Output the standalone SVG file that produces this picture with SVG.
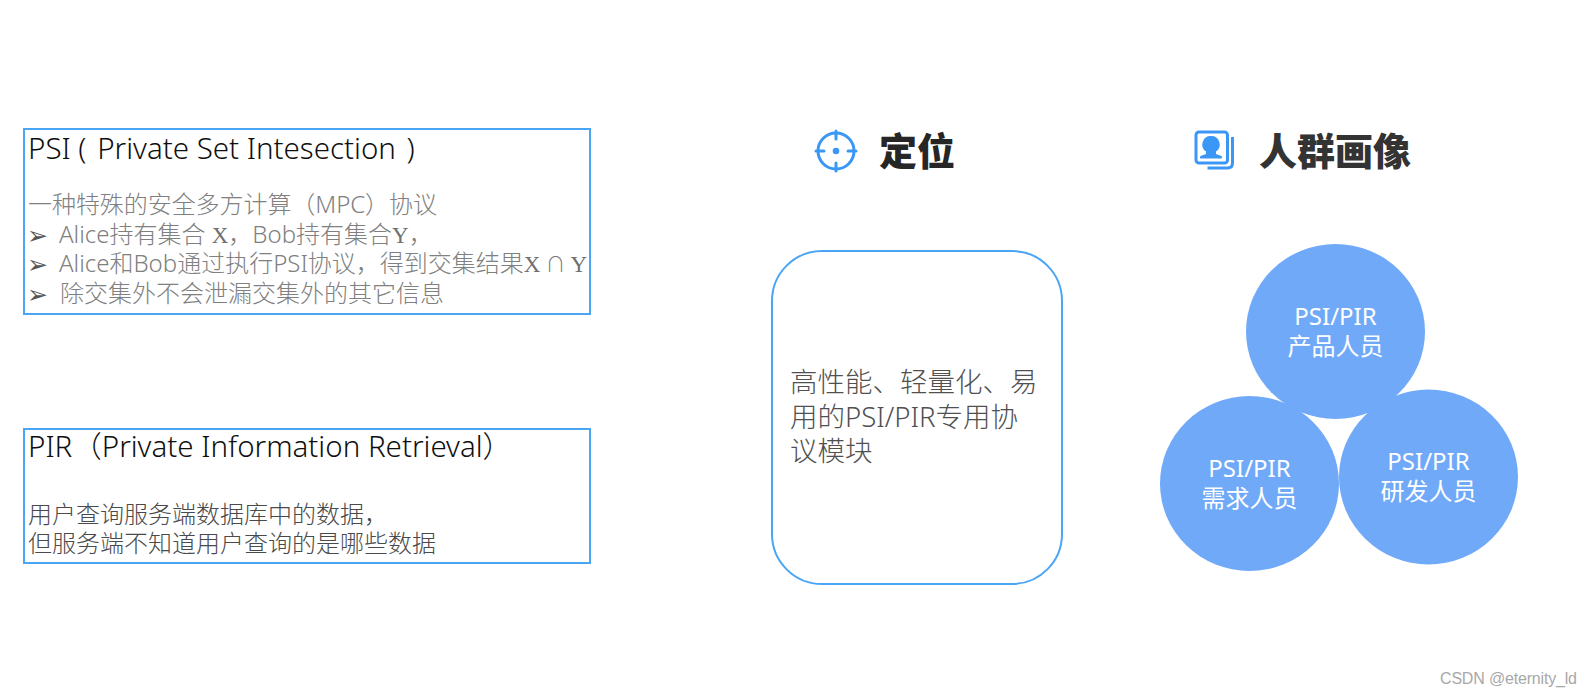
<svg xmlns="http://www.w3.org/2000/svg" width="1592" height="698" viewBox="0 0 1592 698">
<style>
text{font-family:"Noto Sans","Noto Sans CJK SC",sans-serif;font-weight:300}
.box{fill:#fff;stroke:#4aa5f5;stroke-width:2}
.h{font-size:29.500px;fill:#0f0f0f}
.g{font-size:24px;fill:#808080}
.d{font-size:24px;fill:#4a4a4a}
.t{font-size:38px;font-weight:900;font-family:"Noto Sans CJK SC",sans-serif;fill:#262626}
.c{fill:#70a9f8}
.w{font-size:24px;fill:#fff;text-anchor:middle;font-weight:400}
.m{font-size:27.500px;fill:#505050}
.b{font-family:"DejaVu Sans",sans-serif;font-size:25px;fill:#555}
.s{font-family:"Liberation Serif",serif;fill:#707070;font-size:23px}
.ic{fill:none;stroke:#3a97f5;stroke-width:3}
.f{fill:#3a97f5}
</style>
<rect width="1592" height="698" fill="#fff"/>
<g id="psi">
<rect class="box" x="24" y="129" width="566" height="185"/>
<text class="h" x="28" y="159">PSI ( <tspan dx="3">Private Set Intesection</tspan><tspan dx="3"> )</tspan></text>
<text class="g" x="28" y="213" textLength="409">一种特殊的安全多方计算（MPC）协议</text>
<text class="b" x="27" y="244">➢</text>
<text class="g" x="59" y="243">Alice持有集合 <tspan class="s">X</tspan>，Bob持有集合<tspan class="s">Y</tspan>，</text>
<text class="b" x="27" y="273">➢</text>
<text class="g" x="59" y="272">Alice和Bob通过执行PSI协议，得到交集结果<tspan class="s">X</tspan><tspan dx="5" font-size="20" fill="#707070">∩</tspan><tspan class="s" dx="5">Y</tspan></text>
<text class="b" x="27" y="303">➢</text>
<text class="g" x="60" y="302">除交集外不会泄漏交集外的其它信息</text>
</g>
<g id="pir">
<rect class="box" x="24" y="429" width="566" height="134"/>
<text class="h" x="28" y="457">PIR（Private Information Retrieval）</text>
<text class="d" x="28" y="523">用户查询服务端数据库中的数据，</text>
<text class="d" x="28" y="552">但服务端不知道用户查询的是哪些数据</text>
</g>
<g id="dingwei">
<circle class="ic" cx="836" cy="151" r="18"/>
<path class="ic" stroke-linecap="round" d="M836 131v8M836 163v8M816 151h8M848 151h8"/>
<circle class="f" cx="836" cy="151" r="3.300"/>
<text class="t" x="879" y="165">定位</text>
</g>
<g id="renqun">
<rect class="ic" x="1196" y="132" width="31.500" height="31" rx="3"/>
<path class="ic" d="M1232.500 137v26q0 5-5 5h-20"/>
<path class="f" d="M1211 136a8.500 8.500 0 0 1 5 15.500v2.500l5.500 2q1.500 1.500 0 2.500h-21q-1.500-1 0-2.500l5.500-2v-2.500a8.500 8.500 0 0 1 5-15.500z"/>
<text class="t" style="fill:#333" x="1259" y="165">人群画像</text>
</g>
<g id="module">
<rect class="box" x="772" y="251" width="290" height="333" rx="50"/>
<text class="m" x="790" y="392">高性能、轻量化、易</text>
<text class="m" x="790" y="427">用的PSI/PIR专用协</text>
<text class="m" x="790" y="461">议模块</text>
</g>
<g id="c1">
<ellipse class="c" cx="1335.500" cy="331.500" rx="89.500" ry="87.500"/>
<text class="w" x="1335.500" y="325">PSI/PIR</text>
<text class="w" x="1335.500" y="355">产品人员</text>
</g>
<g id="c2">
<ellipse class="c" cx="1249.500" cy="483.500" rx="89.500" ry="87.500"/>
<text class="w" x="1249.500" y="476.500">PSI/PIR</text>
<text class="w" x="1249.500" y="506.500">需求人员</text>
</g>
<g id="c3">
<ellipse class="c" cx="1428.500" cy="477" rx="89.500" ry="87.500"/>
<text class="w" x="1428.500" y="469.500">PSI/PIR</text>
<text class="w" x="1428.500" y="499.500">研发人员</text>
</g>
<text x="1440" y="684" textLength="137" style="font-family:'Liberation Sans',sans-serif;font-weight:400;font-size:16px;fill:#a8a8a8">CSDN @eternity_ld</text>
<g id="connectors"/>
</svg>
